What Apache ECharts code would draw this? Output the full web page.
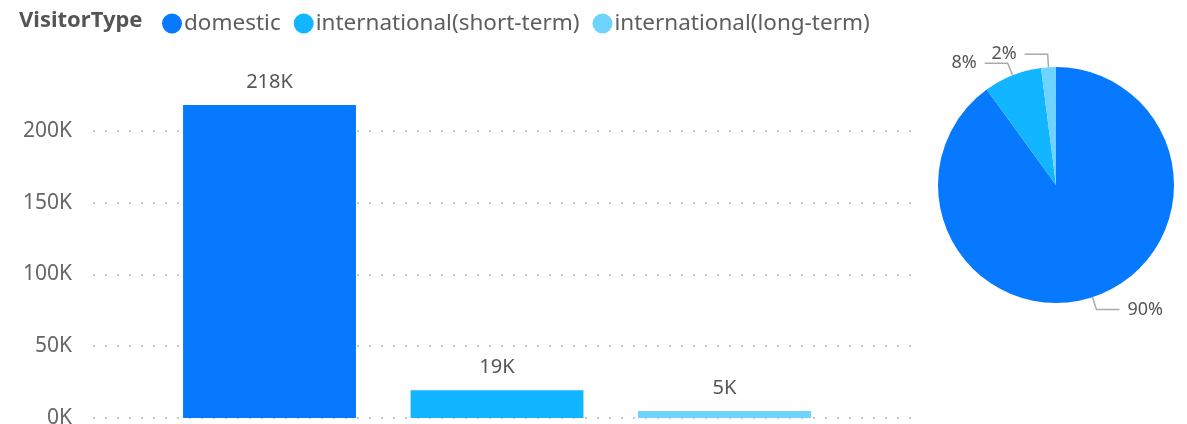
<!DOCTYPE html>
<html>
<head>
<meta charset="utf-8">
<script src="https://cdn.jsdelivr.net/npm/echarts@6/dist/echarts.min.js"></script>
<style>
html,body{margin:0;padding:0;background:#fff;}
#c{width:1187px;height:424px;}
</style>
</head>
<body>
<div id="c"></div>
<script>
var categories = ['domestic', 'international(short-term)', 'international(long-term)'];
var visitors = [218000, 19300, 4900];
var colors = ['#0779FF', '#12B5FF', '#6FD3FF'];
var yTicks = [0, 50000, 100000, 150000, 200000];
var legendTitle = 'VisitorType';

var FONT = '"Segoe UI", "Noto Sans", "Open Sans", sans-serif';
function kfmt(v){ return Math.round(v/1000) + 'K'; }

var chart = echarts.init(document.getElementById('c'));
chart.setOption({
  animation: false,
  textStyle: {fontFamily: FONT},
  title: {
    text: legendTitle, left: 14, top: 5,
    textStyle: {fontFamily: FONT, fontSize: 22, fontWeight: 'bold', color: '#555555'}
  },
  legend: {
    data: categories, left: 157, top: 7, icon: 'circle',
    itemWidth: 20, itemHeight: 20, itemGap: 13,
    textStyle: {fontFamily: FONT, fontSize: 22.5, color: '#605E5C', padding: [0,0,0,-3]}
  },
  grid: [
    {left: 93, right: 275, top: 59, bottom: 6, outerBoundsMode: 'none', containLabel: false},
    {left: 155.75, right: 348.75, top: 59, bottom: 6, outerBoundsMode: 'none', containLabel: false}
  ],
  xAxis: [
    {type: 'category', gridIndex: 0, data: categories, show: false},
    {type: 'category', gridIndex: 1, data: categories, show: false}
  ],
  yAxis: [
    {type: 'value', gridIndex: 0, min: yTicks[0], max: 250000, interval: yTicks[1]-yTicks[0],
     axisLine: {show: false}, axisTick: {show: false},
     axisLabel: {showMaxLabel: false, formatter: kfmt, fontFamily: FONT, fontSize: 21, color: '#666666', margin: 21},
     splitLine: {show: true, showMaxLine: false, lineStyle: {color: '#C8C8C8', width: 2, type: [2, 10]}}
    },
    {type: 'value', gridIndex: 1, min: 0, max: 250000, interval: 50000, show: false, splitLine: {show: false}}
  ],
  series: [
    {
      type: 'bar', xAxisIndex: 1, yAxisIndex: 1, barWidth: '76%',
      data: visitors.map(function(v,i){ return {value: v, itemStyle: {color: colors[i]}}; }),
      label: {show: true, position: 'top', distance: 13, formatter: function(p){ return kfmt(p.value); },
              fontFamily: FONT, fontSize: 20, color: '#555555'}
    },
    {
      type: 'pie', center: [1056, 185], radius: 118, startAngle: 90, clockwise: true,
      avoidLabelOverlap: false,
      data: categories.map(function(c,i){ return {name: c, value: visitors[i], itemStyle: {color: colors[i]}}; }),
      label: {show: true, position: 'outside', formatter: function(p){ return Math.round(p.percent) + '%'; },
              fontFamily: FONT, fontSize: 18, color: '#555555', distanceToLabelLine: 8},
      labelLine: {show: true, length: 13, length2: 23, lineStyle: {color: '#AAAAAA', width: 1.5}},
      emphasis: {disabled: true}
    }
  ]
});
</script>
</body>
</html>
